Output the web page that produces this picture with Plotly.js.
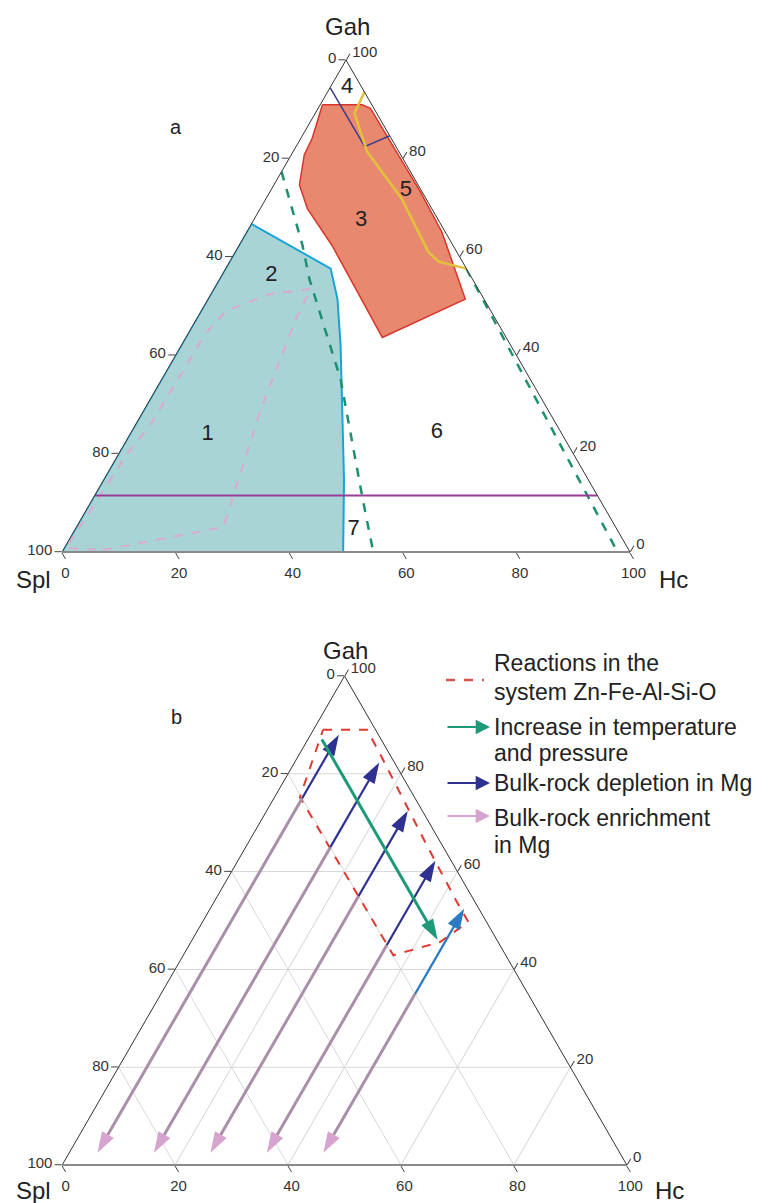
<!DOCTYPE html>
<html>
<head>
<meta charset="utf-8">
<script src="https://cdn.plot.ly/plotly-3.0.1.min.js"></script>
<style>html,body{margin:0;padding:0;background:#fff}</style>
</head>
<body>
<div id="chart" style="width:774px;height:1203px"></div>
<script>
// all compositions in % ; Gah and Hc are read, Spl = 100 - Gah - Hc

// ---- panel a ----
var field12Gah = [0, 66.7, 57.6, 51.4, 41.9, 28.3, 14.7, 0, 0];
var field12Hc  = [0, 0, 18.5, 22.8, 28.1, 35.2, 42.3, 49.5, 0];

var pinkGah = [0.4, 4.1, 5.1, 28.4, 47.3, 53.5, 52.4, 49.0, 44.6, 25.6, 20.0, 8.0, 0.8, 0.4];
var pinkHc  = [7.0, 22.1, 25.9, 20.6, 17.5, 17.1, 10.3, 4.4, 3.1, 2.6, 1.5, 0.8, 0.2, 7.0];

var field3Gah = [90.9, 90.9, 90.2, 73.2, 65.0, 51.4, 43.6, 62.3, 69.8, 74.6, 80.7, 84.1, 90.9];
var field3Hc  = [0.4, 7.4, 9.2, 26.5, 34.4, 45.3, 34.6, 16.4, 8.3, 4.5, 2.3, 2.0, 0.4];

var field4Gah = [94.4, 82.4, 84.6];
var field4Hc  = [0, 12.1, 15.4];

var yellowGah = [93.5, 89.2, 81.4, 71.8, 61.0, 59.0, 57.6];
var yellowHc  = [6.5, 6.9, 13.0, 23.9, 34.0, 36.8, 42.4];

var dashAGah = [77.3, 62.3, 55.5, 35.1, 11.3, 0];
var dashAHc  = [0, 11.2, 15.8, 31.5, 47.2, 54.8];
var dashBGah = [57.6, 0];
var dashBHc  = [42.4, 97.8];

var purpleGah = [11.5, 11.5];
var purpleHc  = [0, 88.5];

var zoneText = ['1', '2', '3', '4', '5', '6', '7'];
var zoneGah  = [23.9, 56.1, 67.3, 94.4, 73.5, 24.2, 4.5];
var zoneHc   = [13.7, 8.8, 19.0, 3.0, 23.8, 53.9, 49.1];

// ---- panel b ----
var reactGah = [89, 89, 83.5, 66, 54, 49.7, 45.6, 42.9, 75.2, 89];
var reactHc  = [1.7, 9.5, 14.8, 31.3, 42.8, 47.1, 44.1, 37.2, 4.5, 1.7];

var tpGah = [87, 46];
var tpHc  = [2.5, 43.5];

var pathHc    = [5, 15, 25, 35, 45];
var startGah  = [75, 65, 55, 45, 35];
var tipGah    = [88, 82.3, 72.4, 62.2, 52.4];
var endGah    = [2.5, 2.5, 2.5, 2.5, 2.5];
var tipColors = ['#2e3192', '#2e3192', '#2e3192', '#2e3192', '#2b7bc4'];

var ticks = [0, 20, 40, 60, 80, 100];

var FONT = 'Liberation Sans, Arial, sans-serif';

function spl(gah, hc) {
  return gah.map(function(g, i) { return +(100 - g - hc[i]).toFixed(2); });
}

function tern(gah, hc, subplot, opts) {
  var t = {type: 'scatterternary', subplot: subplot, a: gah, b: spl(gah, hc), c: hc,
           mode: 'lines', hoverinfo: 'skip', showlegend: false};
  for (var k in opts) t[k] = opts[k];
  return t;
}

function head(color) {
  return {symbol: 'arrow', angleref: 'previous', size: [0, 22], color: color,
          opacity: 1, line: {width: 0}};
}

var data = [];

// panel a
data.push(tern(field12Gah, field12Hc, 'ternary', {fill: 'toself', fillcolor: '#a9d4d5',
  line: {color: '#1aa3d8', width: 2}}));
data.push(tern(pinkGah, pinkHc, 'ternary', {line: {color: '#d9a9cf', width: 2, dash: 'dash'}}));
data.push(tern(field3Gah, field3Hc, 'ternary', {fill: 'toself', fillcolor: '#e8896f',
  line: {color: '#d8352a', width: 1.5}}));
data.push(tern(dashAGah, dashAHc, 'ternary', {line: {color: '#1d9070', width: 2.5, dash: 'dash'}}));
data.push(tern(dashBGah, dashBHc, 'ternary', {line: {color: '#1d9070', width: 2.5, dash: 'dash'}}));
data.push(tern(field4Gah, field4Hc, 'ternary', {line: {color: '#3b3a8c', width: 1.5}}));
data.push(tern(yellowGah, yellowHc, 'ternary', {line: {color: '#e2c13c', width: 2.5}}));
data.push(tern(purpleGah, purpleHc, 'ternary', {line: {color: '#9a3d98', width: 2}}));
data.push(tern(zoneGah, zoneHc, 'ternary', {mode: 'text', text: zoneText,
  textposition: 'middle center', textfont: {family: FONT, size: 22, color: '#222'}}));

// panel b
data.push(tern(reactGah, reactHc, 'ternary2', {line: {color: '#e0392f', width: 2, dash: 'dash'}}));
for (var i = 0; i < pathHc.length; i++) {
  data.push(tern([startGah[i], endGah[i]], [pathHc[i], pathHc[i]], 'ternary2', {
    mode: 'lines+markers', line: {color: '#aa8fa9', width: 3}, marker: head('#d7a4cf')}));
  data.push(tern([startGah[i], tipGah[i]], [pathHc[i], pathHc[i]], 'ternary2', {
    mode: 'lines+markers', line: {color: tipColors[i], width: 2.2}, marker: head(tipColors[i])}));
}
data.push(tern(tpGah, tpHc, 'ternary2', {mode: 'lines+markers', line: {color: '#1e9a78', width: 3},
  marker: head('#1e9a78')}));

function axis(grid, baseLine) {
  return {
    tickvals: ticks,
    ticktext: ticks.map(function(v) { return String(100 - v); }),
    ticks: 'outside', ticklen: 7, tickcolor: '#444',
    linecolor: baseLine ? '#8a8a8a' : '#333', linewidth: baseLine ? 2 : 1,
    showgrid: grid, gridcolor: '#d8d8d8', gridwidth: 1,
    tickfont: {family: FONT, size: 15, color: '#333'},
    title: {text: ''}
  };
}

function px(x) { return x / 774; }
function py(y) { return 1 - y / 1203; }

function label(text, x, y, size, anchor) {
  return {text: text, x: px(x), y: py(y), xref: 'paper', yref: 'paper', showarrow: false,
          xanchor: anchor || 'center', yanchor: 'middle',
          font: {family: FONT, size: size, color: '#222'}};
}

function legendArrow(y, color) {
  return {text: '', x: px(490), y: py(y), xref: 'paper', yref: 'paper', showarrow: true,
          ax: -44, ay: 0, arrowhead: 2, arrowsize: 1.3, arrowwidth: 2.2, arrowcolor: color};
}

var annotations = [
  label('Gah', 347, 26, 24), label('Spl', 53, 579, 24, 'right'), label('Hc', 657, 579, 24, 'left'),
  label('a', 176, 127, 20),
  label('Gah', 345, 650, 24), label('Spl', 53, 1190, 24, 'right'), label('Hc', 653, 1190, 24, 'left'),
  label('b', 176, 717, 20),
  label('Reactions in the', 492, 663, 23, 'left'),
  label('system Zn-Fe-Al-Si-O', 492, 692, 23, 'left'),
  label('Increase in temperature', 492, 727, 23, 'left'),
  label('and pressure', 492, 753, 23, 'left'),
  label('Bulk-rock depletion in Mg', 492, 783, 23, 'left'),
  label('Bulk-rock enrichment', 492, 818, 23, 'left'),
  label('in Mg', 492, 845, 23, 'left'),
  legendArrow(727, '#1e9a78'),
  legendArrow(783, '#2e3192'),
  legendArrow(816, '#d4a6cf')
];

var layout = {
  width: 774, height: 1203,
  margin: {l: 0, r: 0, t: 0, b: 0},
  paper_bgcolor: '#fff',
  font: {family: FONT},
  hovermode: false,
  showlegend: false,
  ternary: {
    sum: 100, bgcolor: 'rgba(0,0,0,0)',
    domain: {x: [px(62), px(630)], y: [py(552), py(60)]},
    aaxis: axis(false, false), baxis: axis(false, true), caxis: axis(false, false)
  },
  ternary2: {
    sum: 100, bgcolor: 'rgba(0,0,0,0)',
    domain: {x: [px(62), px(627)], y: [py(1165), py(676)]},
    aaxis: axis(true, false), baxis: axis(true, true), caxis: axis(true, false)
  },
  shapes: [
    {type: 'line', xref: 'paper', yref: 'paper', x0: px(446), x1: px(484), y0: py(680), y1: py(680),
     line: {color: '#d9534f', width: 2.5, dash: 'dash'}}
  ],
  annotations: annotations
};

Plotly.newPlot('chart', data, layout, {displayModeBar: false, staticPlot: true});
</script>
</body>
</html>
